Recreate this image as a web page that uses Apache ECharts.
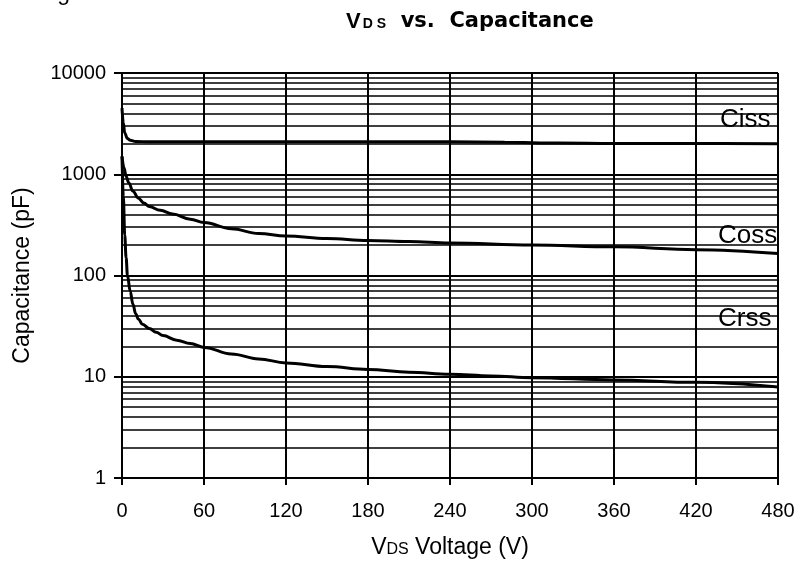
<!DOCTYPE html>
<html>
<head>
<meta charset="utf-8">
<script src="https://cdn.jsdelivr.net/npm/echarts@6/dist/echarts.min.js"></script>
<style>
html,body{margin:0;padding:0;background:#fff;}
#chart{width:798px;height:567px;}
</style>
</head>
<body>
<div id="chart"></div>
<script>
// ---- data ----
var xTicks = [0, 60, 120, 180, 240, 300, 360, 420, 480];
var yTicks = [1, 10, 100, 1000, 10000];

var cissV = [0, 1, 2, 4, 6, 10, 20, 60, 120, 180, 240, 280, 320, 360, 420, 480];
var cissC = [4500, 3200, 2550, 2250, 2170, 2110, 2090, 2090, 2090, 2090, 2090, 2070, 2030, 2010, 2010, 2000];

var cossV = [0, 1.5, 3, 5, 8, 12, 16, 20, 28, 37, 50, 60, 80, 100, 120, 150, 180, 210, 240, 300, 360, 420, 480];
var cossC = [1500, 1150, 950, 820, 680, 580, 520, 480, 440, 405, 360, 333, 290, 260, 246, 232, 222, 217, 210, 200, 192, 180, 165];

var crssV = [0, 1, 2, 3, 4, 6, 8, 10, 12, 15, 20, 25, 30, 40, 50, 60, 80, 100, 120, 150, 180, 210, 240, 270, 300, 360, 420, 480];
var crssC = [1500, 600, 250, 150, 100, 70, 52, 42, 37, 33, 30, 27.5, 25.5, 23, 21.3, 19.5, 16.8, 15, 13.7, 12.6, 11.8, 11.1, 10.6, 10.2, 9.8, 9.3, 8.8, 7.9];

var seriesNames = ['Ciss', 'Coss', 'Crss'];

function pairs(xs, ys) { return xs.map(function (x, i) { return [x, ys[i]]; }); }

var chart = echarts.init(document.getElementById('chart'), null, {renderer: 'canvas'});
var FONT = '"Liberation Sans", Arial, sans-serif';
var WIDE = '"DejaVu Sans", sans-serif';

var lineStyle = {color: '#000', width: 3};
function mkSeries(name, xs, ys) {
  return {
    name: name, type: 'line', data: pairs(xs, ys), showSymbol: false, symbol: 'none',
    smooth: 0.4, smoothMonotone: 'x', lineStyle: lineStyle, itemStyle: {color: '#000'},
    z: 5, animation: false
  };
}

chart.setOption({
  backgroundColor: '#fff',
  animation: false,
  textStyle: {fontFamily: FONT},
  title: {
    text: '{a|V}{b|D S}{c|  vs.  Capacitance}',
    left: 341, top: 6,
    textStyle: {
      rich: {
        a: {fontFamily: FONT, fontWeight: 'bold', fontSize: 22, color: '#000'},
        b: {fontFamily: FONT, fontWeight: 'bold', fontSize: 14, color: '#000', padding: [4, 0, 0, 2]},
        c: {fontFamily: WIDE, fontWeight: 'bold', fontSize: 21, color: '#000'}
      }
    }
  },
  grid: {left: 122, right: 20, top: 73, bottom: 89, containLabel: false},
  xAxis: {
    type: 'value', min: xTicks[0], max: xTicks[xTicks.length - 1], interval: 60,
    name: '{a|V}{b|DS}{a| Voltage (V)}',
    nameLocation: 'middle', nameGap: 58,
    nameTextStyle: {
      rich: {
        a: {fontFamily: FONT, fontSize: 23, color: '#000'},
        b: {fontFamily: FONT, fontSize: 16, color: '#000', padding: [4, 0, 0, 0]}
      }
    },
    axisLine: {show: true, lineStyle: {color: '#000', width: 2}},
    axisTick: {show: true, inside: false, length: 7, lineStyle: {color: '#000', width: 2}},
    axisLabel: {fontFamily: FONT, fontSize: 20, color: '#000', margin: 23},
    splitLine: {show: true, lineStyle: {color: '#000', width: 2}}
  },
  yAxis: {
    type: 'log', logBase: 10, min: yTicks[0], max: yTicks[yTicks.length - 1],
    name: 'Capacitance (pF)',
    nameLocation: 'middle', nameGap: 88, nameRotate: 90,
    nameTextStyle: {fontFamily: FONT, fontSize: 23, color: '#000'},
    axisLine: {show: true, lineStyle: {color: '#000', width: 2}},
    axisTick: {show: true, inside: false, length: 8, lineStyle: {color: '#000', width: 2}},
    axisLabel: {fontFamily: FONT, fontSize: 20, color: '#000', margin: 16,
      formatter: function (v) { return String(Math.round(v)); }},
    splitLine: {show: true, lineStyle: {color: '#000', width: 2}},
    minorTick: {show: false, splitNumber: 9},
    minorSplitLine: {show: true, lineStyle: {color: '#000', width: 1.5}}
  },
  graphic: [
    {type: 'text', left: 38, top: -18, style: {text: 'Figure 6', font: '23px ' + FONT, fill: '#000'}},
    {type: 'text', left: 720, top: 107, style: {text: seriesNames[0], font: '26px ' + FONT, fill: '#000'}, z: 10},
    {type: 'text', left: 718, top: 223, style: {text: seriesNames[1], font: '26px ' + FONT, fill: '#000'}, z: 10},
    {type: 'text', left: 718, top: 306, style: {text: seriesNames[2], font: '26px ' + FONT, fill: '#000'}, z: 10}
  ],
  series: [
    mkSeries(seriesNames[0], cissV, cissC),
    mkSeries(seriesNames[1], cossV, cossC),
    mkSeries(seriesNames[2], crssV, crssC)
  ]
});
</script>
</body>
</html>
